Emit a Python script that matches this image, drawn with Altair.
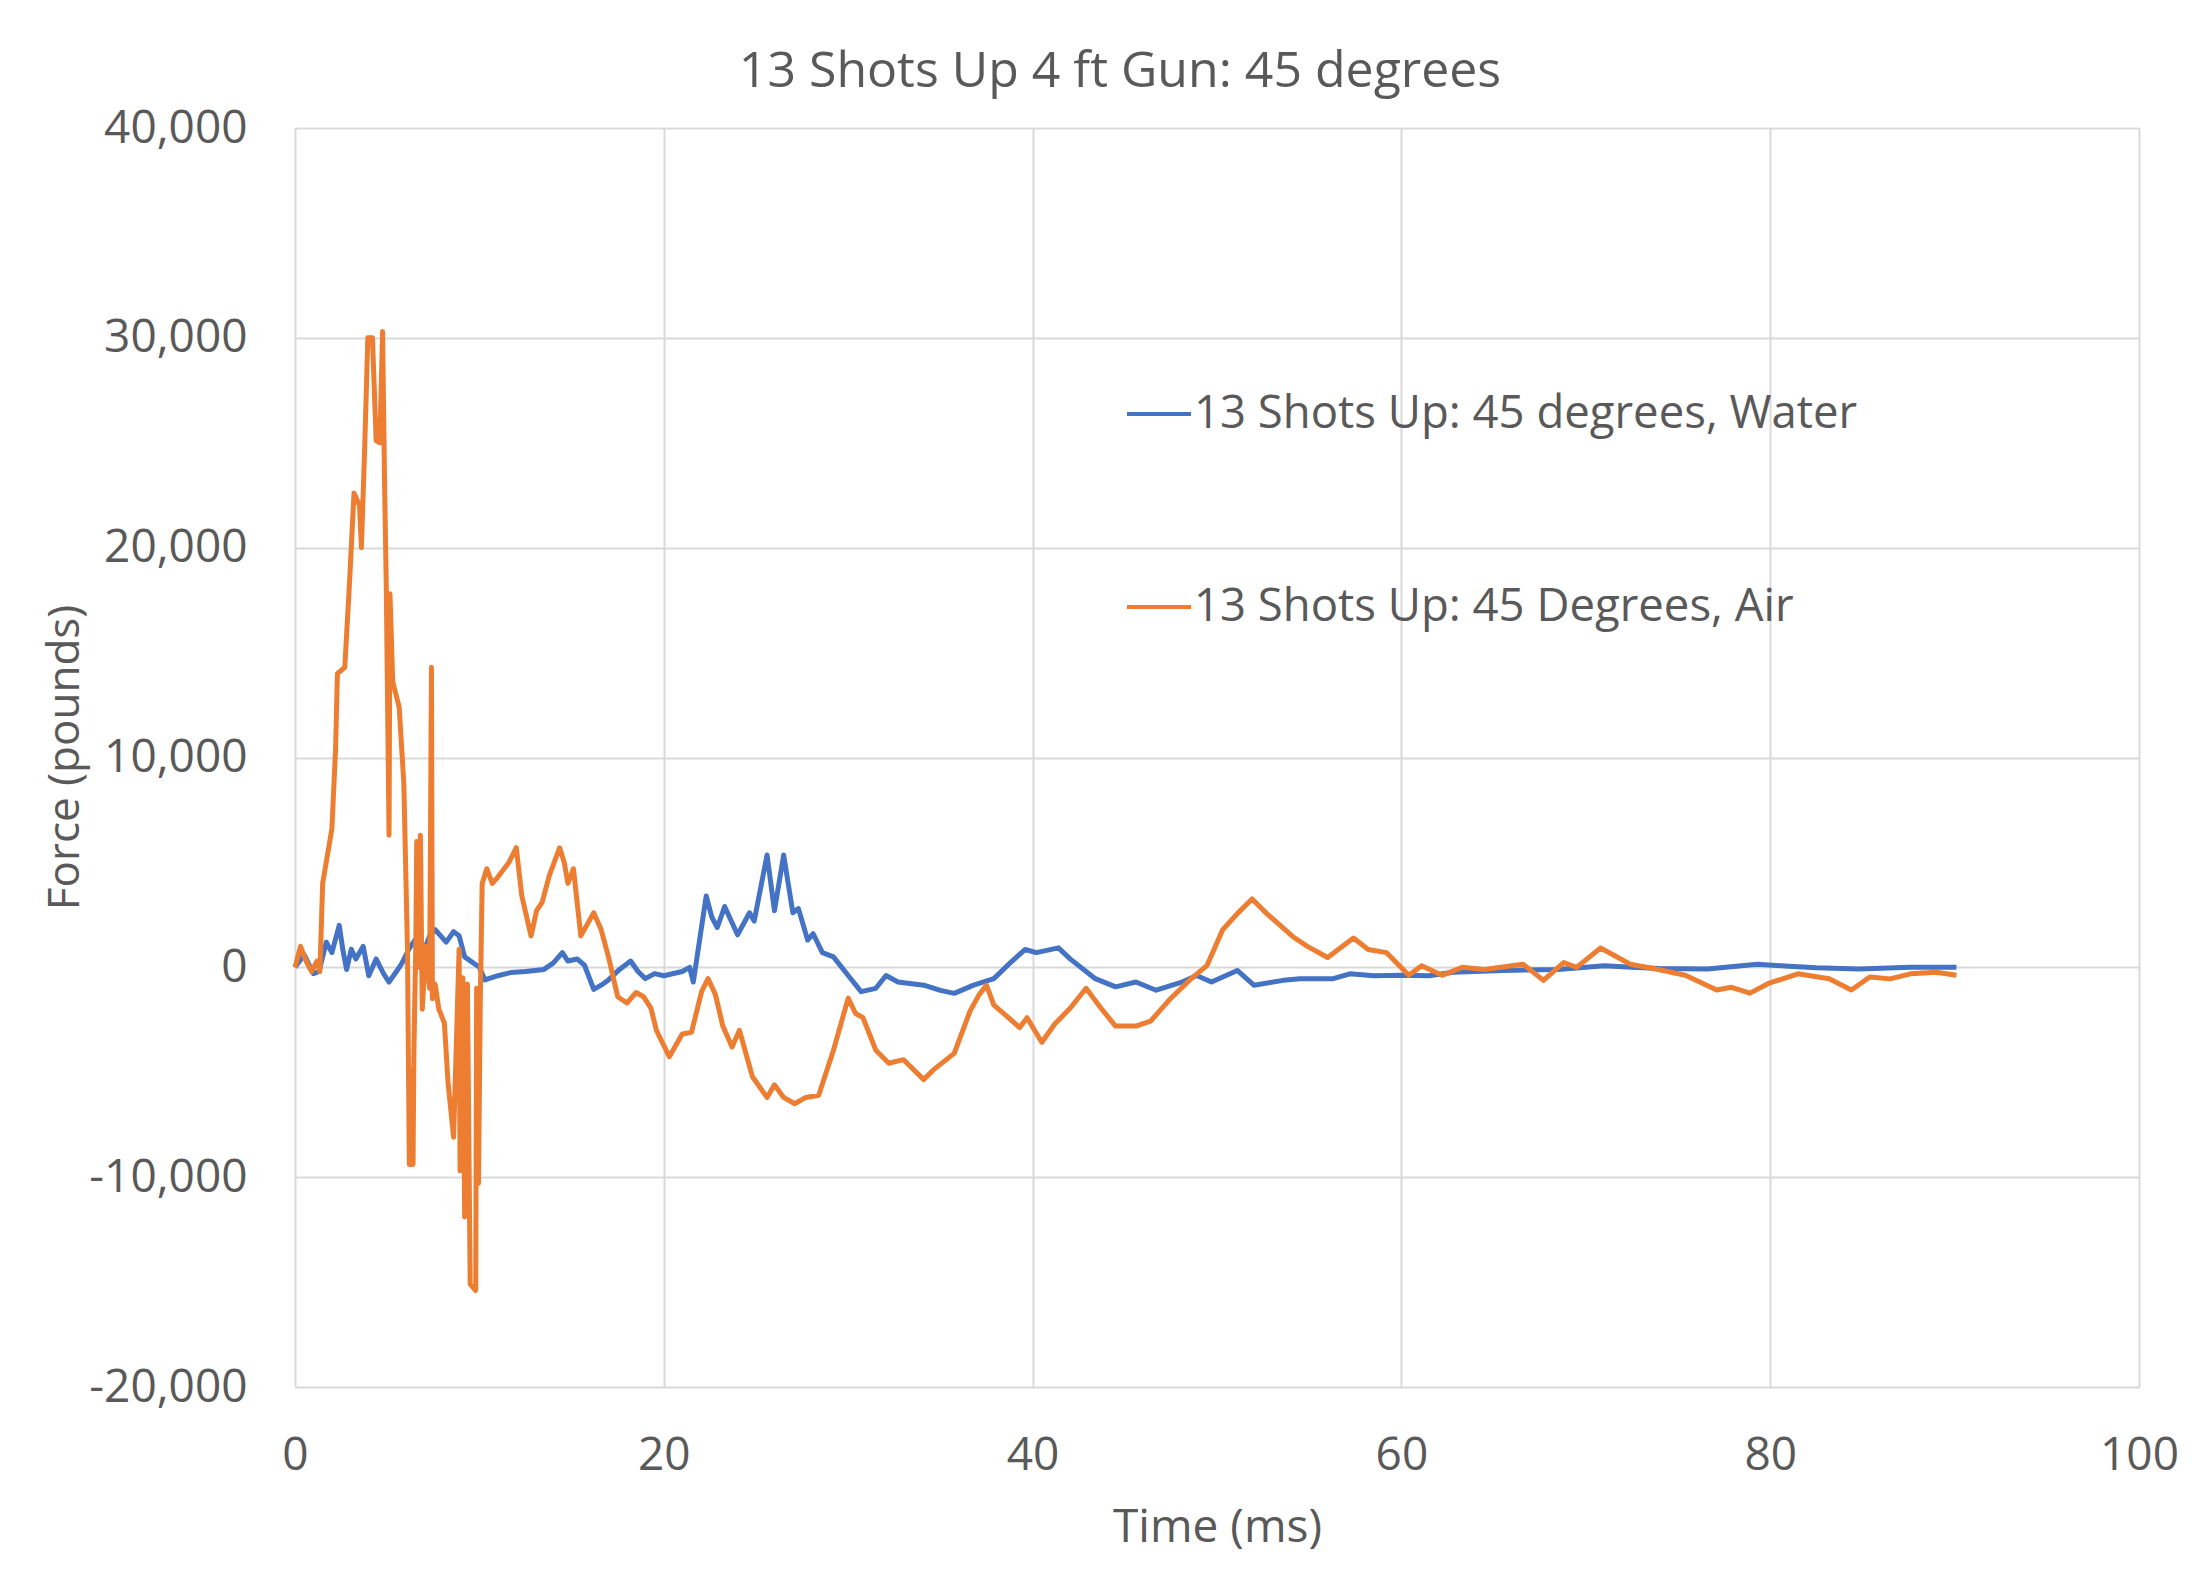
import altair as alt
import pandas as pd

series_names = ["13 Shots Up: 45 degrees, Water", "13 Shots Up: 45 Degrees, Air"]
series_colors = ["#4472C4", "#ED7D31"]

x_ticks = [0, 20, 40, 60, 80, 100]
y_ticks = [-20000, -10000, 0, 10000, 20000, 30000, 40000]

water_t = [0, 0.5, 1.0, 1.3, 1.7, 2.0, 2.4, 2.6, 2.8, 3.05, 3.3, 3.7, 4.0, 4.4, 4.8, 5.1, 5.5, 5.8,
           6.2, 6.5, 7.0, 7.3, 7.6, 8.2, 8.6, 8.9, 9.2, 10.0, 10.3, 11.0, 11.7, 12.5, 13.5, 14.0,
           14.5, 14.8, 15.3, 15.7, 16.2, 16.6, 17.0, 17.6, 18.2, 18.6, 19.0, 19.5, 20.0, 21.0, 21.4,
           21.6, 22.3, 22.6, 22.9, 23.3, 24.0, 24.65, 24.9, 25.6, 26.0, 26.5, 27.0, 27.3, 27.8, 28.1,
           28.6, 29.2, 30.0, 30.7, 31.5, 32.05, 32.7, 34.1, 35.0, 35.75, 36.8, 37.9, 38.8, 39.6, 40.2,
           41.4, 42.05, 43.4, 44.5, 45.6, 46.7, 48.1, 48.9, 49.7, 51.1, 52.0, 53.6, 54.5, 56.3, 57.2,
           58.5, 60.0, 61.5, 62.8, 65.5, 68.5, 71.0, 72.5, 74.0, 76.6, 79.3, 81.0, 82.5, 84.8, 87.6, 90.1]
water_f = [0, 600, -300, -200, 1200, 700, 2000, 800, -100, 860, 400, 1000, -400, 400, -300, -700, -200, 200,
           900, 1300, 800, 1500, 1800, 1200, 1700, 1500, 500, 0, -600, -400, -250, -200, -100, 200,
           700, 300, 400, 100, -1050, -850, -600, -100, 300, -200, -540, -300, -400, -200, 0,
           -700, 3400, 2400, 1900, 2900, 1550, 2600, 2200, 5350, 2700, 5350, 2600, 2800, 1300, 1600,
           700, 500, -390, -1160, -1000, -390, -700, -850, -1100, -1240, -850, -540, 230, 850, 700,
           930, 390, -540, -930, -700, -1090, -700, -390, -700, -150, -850, -620, -540, -540, -310,
           -400, -380, -400, -230, -150, -100, 80, 0, -50, -80, 150, 50, -20, -80, 0, 0]

air_t = [0, 0.3, 0.6, 0.9, 1.2, 1.35, 1.5, 2.0, 2.2, 2.3, 2.7, 2.96, 3.2, 3.5, 3.6, 3.77, 3.95, 4.2,
         4.4, 4.6, 4.75, 4.85, 4.95, 5.1, 5.15, 5.3, 5.65, 5.9, 6.1, 6.2, 6.3, 6.4, 6.45, 6.55, 6.6,
         6.7, 6.8, 6.9, 7.1, 7.3, 7.4, 7.45, 7.6, 7.8, 8.1, 8.3, 8.6, 8.9, 8.95, 9.1, 9.2, 9.35, 9.5,
         9.8, 9.85, 9.95, 10.05, 10.15, 10.4, 10.7, 11.0, 11.6, 12.0, 12.3, 12.8, 13.1, 13.4, 13.8,
         14.35, 14.6, 14.8, 15.1, 15.5, 16.2, 16.6, 17.0, 17.5, 18.0, 18.5, 18.9, 19.3, 19.6, 20.3,
         21.0, 21.5, 22.05, 22.4, 22.8, 23.2, 23.7, 24.1, 24.8, 25.6, 26.0, 26.5, 27.1, 27.7, 28.4,
         29.2, 30.0, 30.4, 30.8, 31.5, 32.2, 33.0, 34.1, 34.6, 35.75, 36.6, 37.1, 37.5, 37.9, 38.5,
         39.3, 39.7, 40.5, 41.2, 42.05, 42.9, 43.7, 44.5, 45.6, 46.4, 47.5, 48.6, 49.45, 50.3, 51.1,
         51.9, 52.7, 54.1, 54.9, 56.0, 57.4, 58.2, 59.2, 60.4, 61.1, 62.2, 63.3, 64.5, 66.6, 67.7,
         68.8, 69.5, 70.8, 71.6, 72.4, 73.8, 75.4, 77.1, 77.9, 78.9, 79.9, 81.5, 83.2, 84.4, 85.4,
         86.5, 87.6, 89.0, 90.1]
air_f = [0, 1000, 300, -200, 300, -200, 4000, 6600, 10400, 14000, 14300, 18400, 22600, 22000, 20000,
         24500, 30000, 30000, 25100, 25000, 30300, 23500, 18100, 6300, 17800, 13600, 12400, 8800, 860,
         -9400, -4900, -9400, -3900, 1000, 6000, 0, 6300, -2000, 1000, -1000, 14300, -1500, -800, -2000,
         -2650, -5500, -8100, 860, -9700, -500, -11900, -800, -15100, -15400, -1000, -10300, -1500, 4000,
         4700, 4000, 4300, 5000, 5700, 3400, 1500, 2700, 3100, 4400, 5700, 5000, 4000, 4700, 1500, 2600,
         1800, 500, -1400, -1700, -1200, -1400, -1940, -3000, -4260, -3180, -3100, -1160, -540, -1300,
         -2800, -3800, -3000, -5200, -6200, -5600, -6200, -6500, -6200, -6100, -3950, -1470, -2200, -2400,
         -3950, -4570, -4400, -5350, -4900, -4100, -2100, -1300, -850, -1800, -2250, -2870, -2400, -3570,
         -2700, -1940, -1000, -1940, -2800, -2800, -2560, -1470, -540, 80, 1780, 2560, 3260, 2560, 1470,
         1000, 470, 1400, 850, 700, -380, 80, -380, 0, -100, 150, -620, 230, 0, 920, 540, 150, -80, -380,
         -1080, -950, -1230, -770, -310, -540, -1080, -460, -550, -310, -230, -380]

rows = []
for name, ts, fs in [(series_names[0], water_t, water_f), (series_names[1], air_t, air_f)]:
    for i, (t, f) in enumerate(zip(ts, fs)):
        rows.append({"series": name, "t": t, "f": f, "idx": i})
df = pd.DataFrame(rows)

FONT = "Open Sans"
TXT = "#595959"
GRID = "#D9D9D9"

chart = alt.Chart(df).mark_line(strokeWidth=5, strokeJoin="round").encode(
    x=alt.X("t:Q",
            scale=alt.Scale(domain=[0, 100], nice=False, zero=False),
            axis=alt.Axis(values=x_ticks, title="Time (ms)", grid=True, gridColor=GRID, gridWidth=2,
                          domain=False, ticks=False, labelPadding=46, labelFont=FONT, labelFontSize=46,
                          labelColor=TXT, titleFont=FONT, titleFontSize=46, titleColor=TXT,
                          titleFontWeight="normal", titleX=922, titleY=140, titleBaseline="middle",
                          titleAlign="center", labelFlush=False)),
    y=alt.Y("f:Q",
            scale=alt.Scale(domain=[-20000, 40000], nice=False, zero=False),
            axis=alt.Axis(values=y_ticks, title="Force (pounds)", grid=True, gridColor=GRID, gridWidth=2,
                          domain=False, ticks=False, labelPadding=48, labelFont=FONT, labelFontSize=46,
                          labelColor=TXT, labelExpr="replace(format(datum.value, ','), '\u2212', '-')",
                          titleFont=FONT, titleFontSize=44, titleColor=TXT, titleFontWeight="normal",
                          titleX=-230, titleY=629, titleAngle=-90, titleBaseline="middle",
                          titleAlign="center", labelFlush=False)),
    color=alt.Color("series:N",
                    scale=alt.Scale(domain=series_names, range=series_colors),
                    sort=series_names,
                    legend=alt.Legend(title=None, orient="none", legendX=830, legendY=252,
                                      symbolType="stroke", symbolSize=4096, symbolStrokeWidth=4,
                                      labelFont=FONT, labelFontSize=45.5, labelColor=TXT,
                                      labelLimit=2000, rowPadding=135, labelOffset=1)),
    order="idx:Q",
).properties(
    width=1844,
    height=1259,
    title=alt.TitleParams("13 Shots Up 4 ft Gun: 45 degrees", font=FONT, fontSize=50, color=TXT,
                          fontWeight="normal", anchor="middle", frame="group", dx=-97, offset=8),
    autosize=alt.AutoSizeParams(type="none"),
    padding={"left": 295, "top": 128, "right": 62, "bottom": 206},
).configure_view(stroke=None).configure(background="white")

chart.save("out.html", embed_options={"renderer": "svg", "actions": False})
